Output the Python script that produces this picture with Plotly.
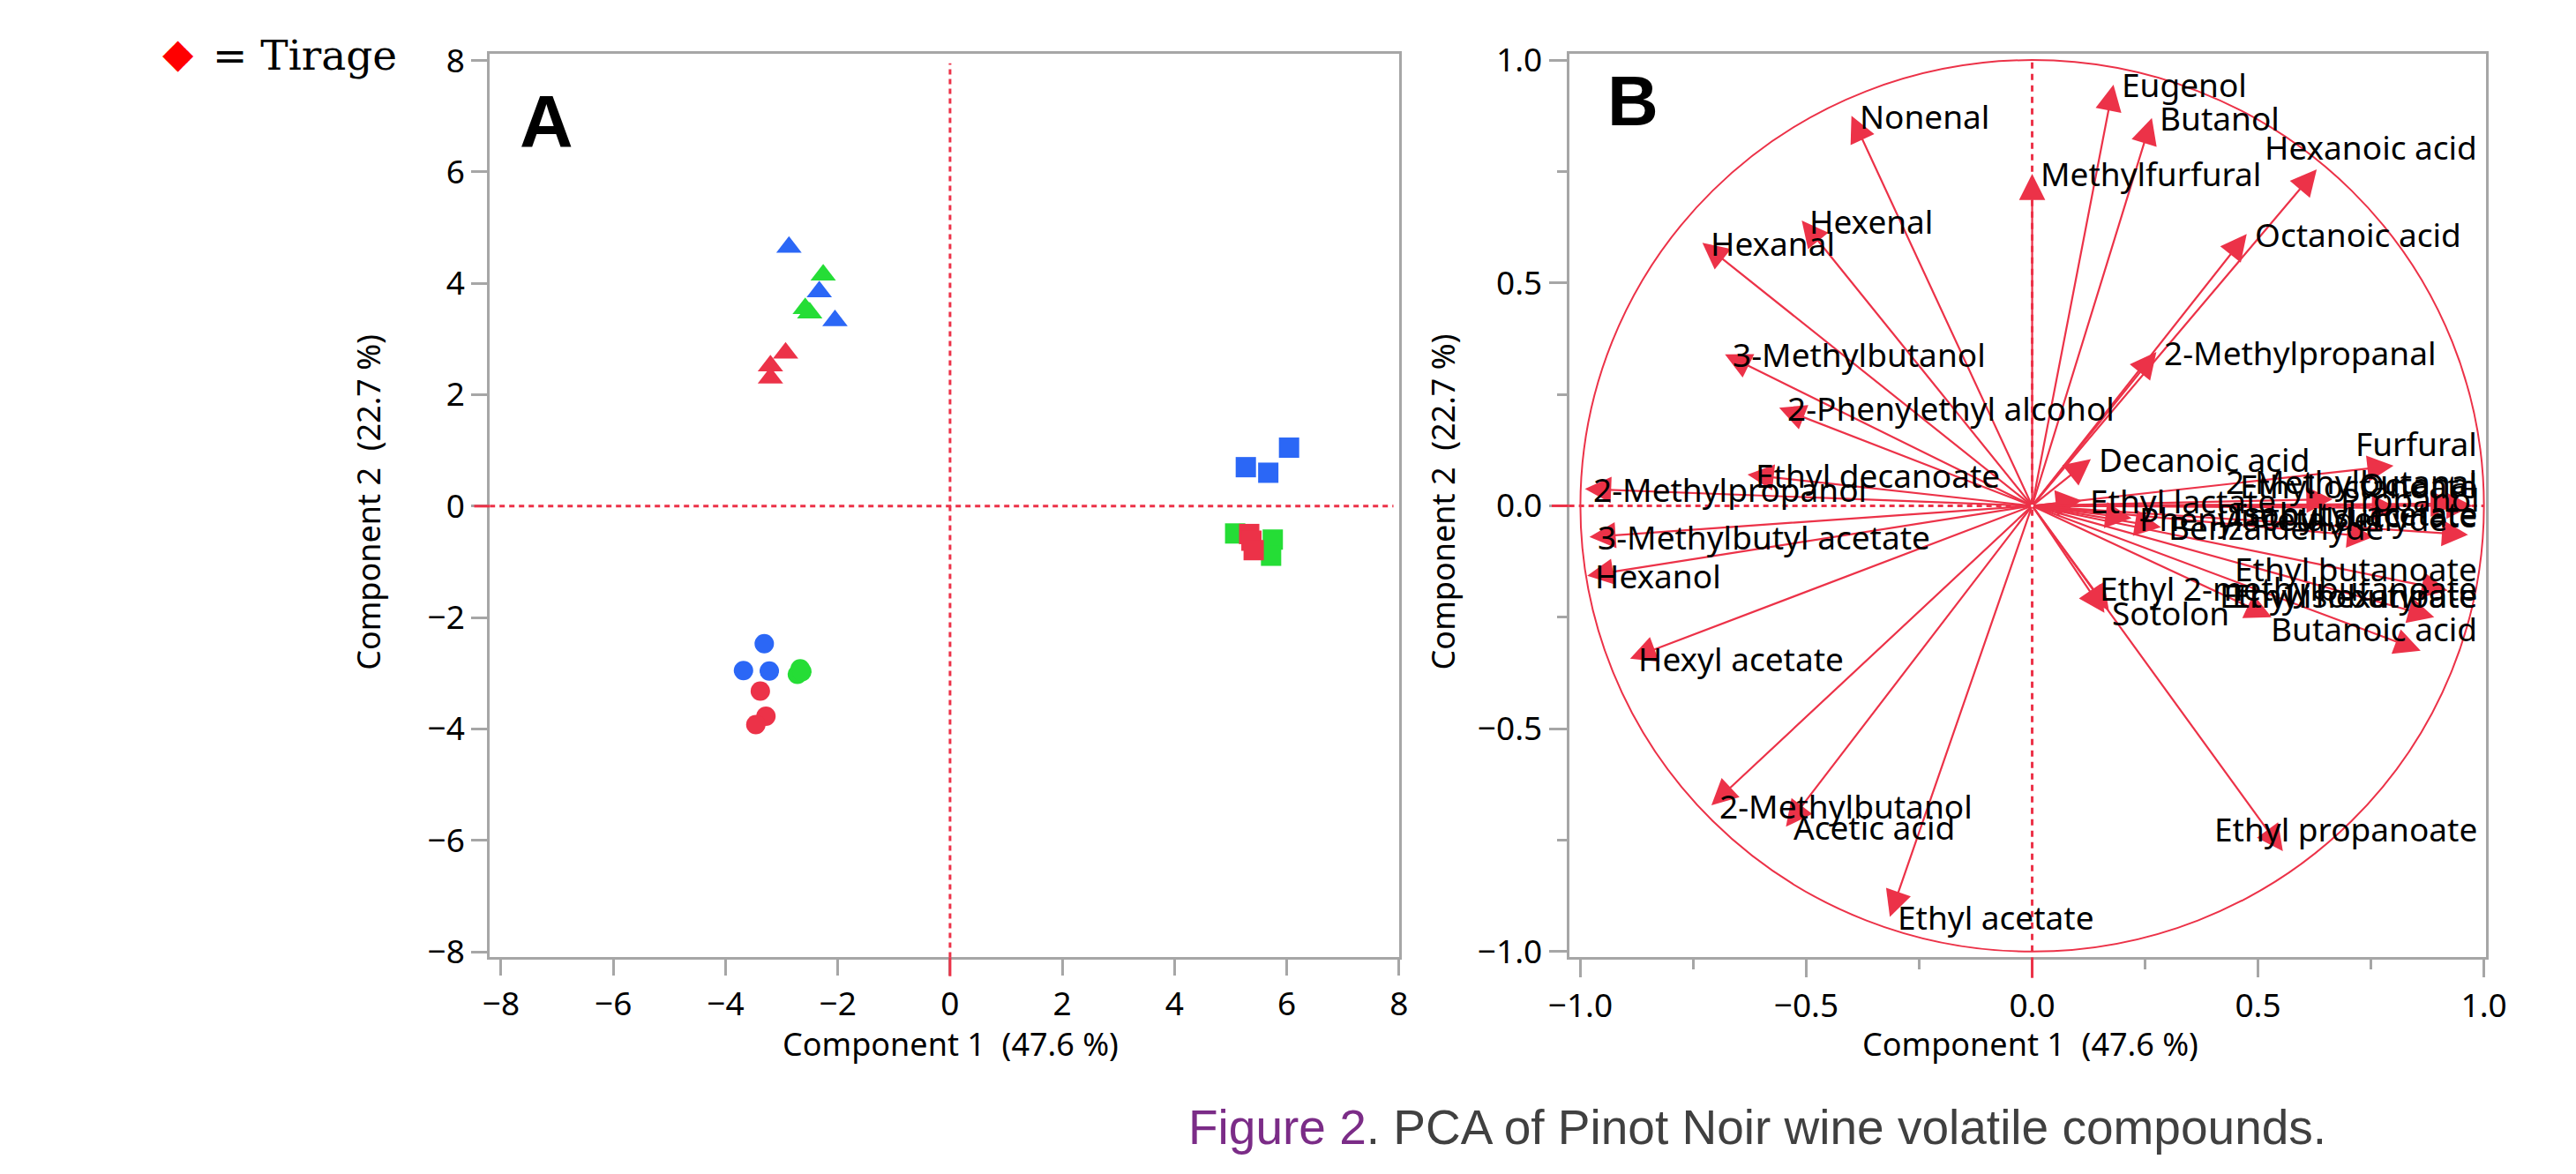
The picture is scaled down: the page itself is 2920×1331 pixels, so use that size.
import plotly.graph_objects as go

# photo size and page (body) margin compensation
PW, PH = 2920, 1331
OFF = 8
W, H = PW - 2 * OFF, PH - 2 * OFF


def px(x):
    return (x - OFF) / W


def py(y):
    return 1 - (y - OFF) / H


# ---------------- Panel A : PCA scores ----------------
pc1_tri_red = [-2.93, -3.20, -3.20]
pc2_tri_red = [2.75, 2.52, 2.30]
pc1_tri_green = [-2.26, -2.50, -2.58]
pc2_tri_green = [4.15, 3.47, 3.55]
pc1_tri_blue = [-2.87, -2.33, -2.05]
pc2_tri_blue = [4.65, 3.85, 3.33]

pc1_sq_red = [5.33, 5.37, 5.41]
pc2_sq_red = [-0.50, -0.62, -0.79]
pc1_sq_green = [5.08, 5.75, 5.72]
pc2_sq_green = [-0.49, -0.60, -0.89]
pc1_sq_blue = [5.27, 5.67, 6.04]
pc2_sq_blue = [0.70, 0.60, 1.05]

pc1_ci_red = [-3.38, -3.28, -3.46]
pc2_ci_red = [-3.32, -3.77, -3.92]
pc1_ci_green = [-2.67, -2.72, -2.64]
pc2_ci_green = [-2.92, -3.02, -2.97]
pc1_ci_blue = [-3.31, -3.68, -3.22]
pc2_ci_blue = [-2.47, -2.95, -2.96]

# ---------------- Panel B : loadings ----------------
compounds = [
    "Nonenal", "Eugenol", "Butanol", "Hexanoic acid", "Methylfurfural",
    "Hexenal", "Hexanal", "Octanoic acid", "3-Methylbutanol", "2-Methylpropanal",
    "2-Phenylethyl alcohol", "Decanoic acid", "Furfural", "Ethyl decanoate",
    "2-Methylpropanol", "3-Methylbutyl acetate", "Hexanol", "Hexyl acetate",
    "2-Methylbutanol", "Acetic acid", "Ethyl acetate", "Ethyl propanoate",
    "Sotolon", "Ethyl 2-methylbutanoate", "Benzaldehyde", "Ethyl lactate",
    "Propanol", "2-Methylbutanal", "Octanal", "Ethyl octanoate",
    "Diethyl succinate", "Isobutyl acetate", "Phenylacetaldehyde",
    "Ethyl butanoate", "Ethyl hexanoate", "Ethyl isobutyrate", "Butanoic acid",
]
load_pc1 = [
    -0.40, 0.18, 0.265, 0.63, 0.00,
    -0.51, -0.73, 0.475, -0.68, 0.275,
    -0.56, 0.13, 0.80, -0.63,
    -0.99, -0.98, -0.985, -0.89,
    -0.71, -0.545, -0.315, 0.555,
    0.16, 0.17, 0.285, 0.11,
    0.665, 0.94, 0.975, 0.81,
    0.755, 0.965, 0.22,
    0.92, 0.53, 0.89, 0.86,
]
load_pc2 = [
    0.875, 0.945, 0.87, 0.755, 0.745,
    0.64, 0.59, 0.61, 0.34, 0.345,
    0.22, 0.105, 0.09, 0.07,
    0.038, -0.07, -0.157, -0.343,
    -0.672, -0.72, -0.922, -0.775,
    -0.24, -0.235, -0.048, 0.012,
    0.015, 0.005, 0.0, -0.005,
    -0.07, -0.065, -0.028,
    -0.19, -0.25, -0.25, -0.325,
]

# ---------------- styling ----------------
RED = "#EC3248"
GREEN = "#25DD36"
BLUE = "#2B67F6"
AXC = "#a6a6a6"
FONT = "Noto Sans"

fig = go.Figure()

groups = [
    (pc1_tri_red, pc2_tri_red, "triangle-up", RED, 25),
    (pc1_tri_green, pc2_tri_green, "triangle-up", GREEN, 25),
    (pc1_tri_blue, pc2_tri_blue, "triangle-up", BLUE, 25),
    (pc1_sq_green, pc2_sq_green, "square", GREEN, 23),
    (pc1_sq_red, pc2_sq_red, "square", RED, 23),
    (pc1_sq_blue, pc2_sq_blue, "square", BLUE, 23),
    (pc1_ci_red, pc2_ci_red, "circle", RED, 22),
    (pc1_ci_green, pc2_ci_green, "circle", GREEN, 22),
    (pc1_ci_blue, pc2_ci_blue, "circle", BLUE, 22),
]
for xs, ys, sym, col, sz in groups:
    fig.add_trace(go.Scatter(
        x=xs, y=ys, mode="markers", xaxis="x", yaxis="y", showlegend=False,
        marker=dict(symbol=sym, color=col, size=sz, line=dict(width=0)),
        hoverinfo="skip"))

# invisible trace to activate panel B axes
fig.add_trace(go.Scatter(x=load_pc1, y=load_pc2, mode="markers", xaxis="x2", yaxis="y2",
                         marker=dict(size=1, opacity=0), showlegend=False, hoverinfo="skip"))

y_dom = [py(1096), py(42)]
tickfont = dict(family=FONT, size=37, color="black")

common = dict(showgrid=False, zeroline=False, showline=True, mirror=True, linecolor=AXC,
              linewidth=3, ticks="outside", tickcolor=AXC, tickwidth=3, tickfont=tickfont)

fig.update_layout(
    width=W, height=H, margin=dict(l=0, r=0, t=0, b=0),
    paper_bgcolor="white", plot_bgcolor="white",
    xaxis=dict(domain=[px(540), px(1588)], range=[-8.2, 8.0], tickmode="linear", tick0=-8, dtick=2,
               ticklen=18, anchor="y", **common),
    yaxis=dict(domain=y_dom, range=[-8.1, 8.12], tickmode="linear", tick0=-8, dtick=2,
               ticklen=18, anchor="x", **common),
    xaxis2=dict(domain=[px(1784), px(2841)], range=[-1.025, 1.005], tickmode="linear", tick0=-1,
                dtick=0.5, tickformat=".1f", ticklen=20, anchor="y2",
                minor=dict(dtick=0.25, tick0=-1, ticklen=11, tickwidth=3, tickcolor=AXC, ticks="outside"),
                **common),
    yaxis2=dict(domain=y_dom, range=[-1.013, 1.014], tickmode="linear", tick0=-1,
                dtick=0.5, tickformat=".1f", ticklen=20, anchor="x2",
                minor=dict(dtick=0.25, tick0=-1, ticklen=11, tickwidth=3, tickcolor=AXC, ticks="outside"),
                **common),
)

shapes = []
dot = "6px,5px"
# Panel A reference lines
shapes.append(dict(type="line", xref="x", yref="y", x0=0, x1=0, y0=-8.1, y1=7.95,
                   line=dict(color=RED, width=3, dash=dot)))
shapes.append(dict(type="line", xref="x", yref="y", x0=-8.2, x1=7.9, y0=0, y1=0,
                   line=dict(color=RED, width=3, dash=dot)))
# red ticks on axes at zero
shapes.append(dict(type="line", xref="x", yref="paper", x0=0, x1=0, y0=py(1096), y1=py(1118),
                   line=dict(color=RED, width=3)))
shapes.append(dict(type="line", xref="paper", yref="y", x0=px(540 - 18), x1=px(540), y0=0, y1=0,
                   line=dict(color=RED, width=3)))
# Panel B
shapes.append(dict(type="circle", xref="x2", yref="y2", x0=-1, x1=1, y0=-1, y1=1,
                   line=dict(color=RED, width=2)))
shapes.append(dict(type="line", xref="x2", yref="y2", x0=0, x1=0, y0=-1, y1=1,
                   line=dict(color=RED, width=3, dash="7px,6px")))
shapes.append(dict(type="line", xref="x2", yref="y2", x0=-1.025, x1=1.0, y0=0, y1=0,
                   line=dict(color=RED, width=3, dash=dot)))
shapes.append(dict(type="line", xref="x2", yref="paper", x0=0, x1=0, y0=py(1096), y1=py(1120),
                   line=dict(color=RED, width=3)))
shapes.append(dict(type="line", xref="paper", yref="y2", x0=px(1784 - 20), x1=px(1784), y0=0, y1=0,
                   line=dict(color=RED, width=3)))
fig.update_layout(shapes=shapes)

ann = []
# loading arrows and labels
CHAR_W = 0.036
for name, lx, ly in zip(compounds, load_pc1, load_pc2):
    ann.append(dict(xref="x2", yref="y2", axref="x2", ayref="y2", x=lx, y=ly, ax=0, ay=0,
                    text="", showarrow=True, arrowhead=2, arrowsize=2.7, arrowwidth=2.2,
                    arrowcolor=RED, standoff=0))
for name, lx, ly in zip(compounds, load_pc1, load_pc2):
    fits = lx + 0.02 + len(name) * CHAR_W <= 0.99
    if fits:
        ann.append(dict(xref="x2", yref="y2", x=lx, y=ly, text=name, showarrow=False,
                        xanchor="left", yanchor="middle", xshift=7,
                        font=dict(family=FONT, size=37, color="black")))
    else:
        ann.append(dict(xref="x2", yref="y2", x=0.99, y=ly + 0.05, text=name, showarrow=False,
                        xanchor="right", yanchor="middle",
                        font=dict(family=FONT, size=37, color="black")))

# panel letters
ann.append(dict(xref="paper", yref="paper", x=px(605), y=py(121), text="<b>A</b>", showarrow=False,
                xanchor="center", yanchor="middle",
                font=dict(family="Liberation Sans", size=84, color="black")))
ann.append(dict(xref="paper", yref="paper", x=px(1858), y=py(97), text="<b>B</b>", showarrow=False,
                xanchor="center", yanchor="middle",
                font=dict(family="Liberation Sans", size=80, color="black")))

# axis titles
title_font = dict(family=FONT, size=36, color="black")
ann.append(dict(xref="paper", yref="paper", x=px(1071), y=py(1197), text="Component 1  (47.6 %)",
                showarrow=False, xanchor="center", yanchor="middle", font=title_font))
ann.append(dict(xref="paper", yref="paper", x=px(2316), y=py(1197), text="Component 1  (47.6 %)",
                showarrow=False, xanchor="center", yanchor="middle", font=title_font))
ann.append(dict(xref="paper", yref="paper", x=px(400), y=py(565), text="Component 2  (22.7 %)",
                showarrow=False, xanchor="center", yanchor="middle", textangle=-90, font=title_font))
ann.append(dict(xref="paper", yref="paper", x=px(1638), y=py(565), text="Component 2  (22.7 %)",
                showarrow=False, xanchor="center", yanchor="middle", textangle=-90, font=title_font))

# legend note
ann.append(dict(xref="paper", yref="paper", x=px(181), y=py(41), text="◆", showarrow=False,
                xanchor="center", yanchor="middle",
                font=dict(family="DejaVu Sans", size=46, color="#ff0000")))
ann.append(dict(xref="paper", yref="paper", x=px(218), y=py(43), text="= Tirage", showarrow=False,
                xanchor="left", yanchor="middle",
                font=dict(family="DejaVu Serif", size=47, color="black")))

# caption
ann.append(dict(xref="paper", yref="paper", x=px(2001), y=py(1294),
                text="<span style='color:#7B2C87'>Figure 2</span>. PCA of Pinot Noir wine volatile compounds.",
                showarrow=False, xanchor="center", yanchor="middle",
                font=dict(family="Liberation Sans", size=55, color="#404040")))

fig.update_layout(annotations=ann)

fig.write_html("out.html")
